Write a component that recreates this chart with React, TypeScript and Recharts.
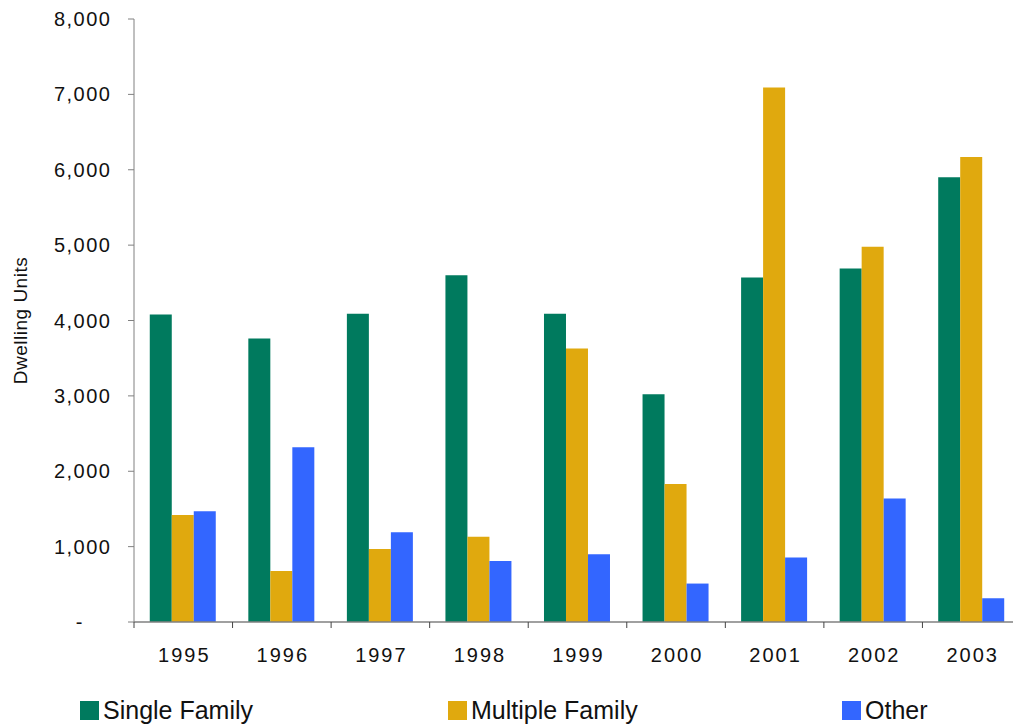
import { Bar, BarChart, Label, XAxis, YAxis } from "recharts";

const years = ["1995", "1996", "1997", "1998", "1999", "2000", "2001", "2002", "2003"];
const singleFamily = [4080, 3760, 4090, 4600, 4090, 3020, 4570, 4690, 5900];
const multipleFamily = [1420, 675, 970, 1130, 3630, 1830, 7090, 4980, 6170];
const otherUnits = [1470, 2320, 1190, 810, 900, 510, 855, 1640, 315];
const yTicks = [0, 1000, 2000, 3000, 4000, 5000, 6000, 7000, 8000];

const FONT = '"Liberation Sans", Arial, sans-serif';
const GREEN = "#007a5e";
const GOLD = "#e0a90e";
const BLUE = "#3366ff";
const AXIS = "#808080";

const X_TICK_SIZE = 6;
const X_TICK_MARGIN = 20;

const legendItems = [
  { name: "Single Family", color: GREEN, left: 80 },
  { name: "Multiple Family", color: GOLD, left: 448 },
  { name: "Other", color: BLUE, left: 842 },
];

const data = years.map((year, i) => ({
  year,
  single: singleFamily[i],
  multiple: multipleFamily[i],
  other: otherUnits[i],
}));

// tick marks sit on the category boundaries, labels in the middle
function YearTick(props: any) {
  const { x, y, payload, width, index, visibleTicksCount } = props;
  const band = width / visibleTicksCount;
  const axisY = y - X_TICK_SIZE - X_TICK_MARGIN;
  const last = index === visibleTicksCount - 1;
  return (
    <g>
      <line x1={x - band / 2} x2={x - band / 2} y1={axisY} y2={axisY + X_TICK_SIZE} stroke="#444" />
      {last ? (
        <line x1={x + band / 2} x2={x + band / 2} y1={axisY} y2={axisY + X_TICK_SIZE} stroke="#444" />
      ) : null}
      <text
        x={x + 1}
        y={y}
        dy="0.71em"
        textAnchor="middle"
        fill="#111"
        fontSize={20}
        letterSpacing={2}
        fontFamily={FONT}
      >
        {payload.value}
      </text>
    </g>
  );
}

function CountTick(props: any) {
  const { x, y, payload } = props;
  const v = payload.value as number;
  const text = v === 0 ? "-" : v.toLocaleString("en-US");
  return (
    <text
      x={v === 0 ? x - 26 : x + 1.5}
      y={y}
      dy="0.355em"
      textAnchor="end"
      fill="#111"
      fontSize={20}
      letterSpacing={1.5}
      fontFamily={FONT}
    >
      {text}
    </text>
  );
}

function AxisTitle(props: any) {
  const { viewBox } = props;
  const cx = viewBox.x + 20;
  const cy = viewBox.y + viewBox.height / 2;
  return (
    <text
      x={cx}
      y={cy}
      dy="0.355em"
      textAnchor="middle"
      transform={`rotate(-90, ${cx}, ${cy})`}
      fill="#111"
      fontSize={19}
      letterSpacing={0.5}
      fontFamily={FONT}
    >
      Dwelling Units
    </text>
  );
}

export default function App() {
  return (
    <div
      style={{
        position: "absolute",
        left: 0,
        top: 0,
        width: 1013,
        height: 727,
        overflow: "hidden",
        background: "#fff",
        fontFamily: FONT,
      }}
    >
      <BarChart
        width={1021}
        height={727}
        data={data}
        margin={{ top: 19, right: 0, left: 0, bottom: 0 }}
        barCategoryGap="16%"
        barGap={0}
      >
        <XAxis
          dataKey="year"
          height={105}
          axisLine={{ stroke: AXIS, strokeWidth: 1.5 }}
          tickLine={false}
          tickSize={X_TICK_SIZE}
          tickMargin={X_TICK_MARGIN}
          interval={0}
          tick={<YearTick />}
        />
        <YAxis
          width={134}
          domain={[0, 8000]}
          ticks={yTicks}
          interval={0}
          axisLine={{ stroke: AXIS }}
          tickLine={{ stroke: AXIS }}
          tickSize={6}
          tickMargin={18}
          tick={<CountTick />}
        >
          <Label content={<AxisTitle />} />
        </YAxis>
        <Bar dataKey="single" name="Single Family" fill={GREEN} isAnimationActive={false} />
        <Bar dataKey="multiple" name="Multiple Family" fill={GOLD} isAnimationActive={false} />
        <Bar dataKey="other" name="Other" fill={BLUE} isAnimationActive={false} />
      </BarChart>
      {legendItems.map((item) => (
        <div
          key={item.name}
          style={{
            position: "absolute",
            left: item.left,
            top: 696,
            height: 29,
            display: "flex",
            alignItems: "center",
            gap: 4,
            fontSize: 25,
            color: "#111",
            whiteSpace: "nowrap",
          }}
        >
          <span style={{ width: 19, height: 19, background: item.color, display: "inline-block" }} />
          <span>{item.name}</span>
        </div>
      ))}
    </div>
  );
}
